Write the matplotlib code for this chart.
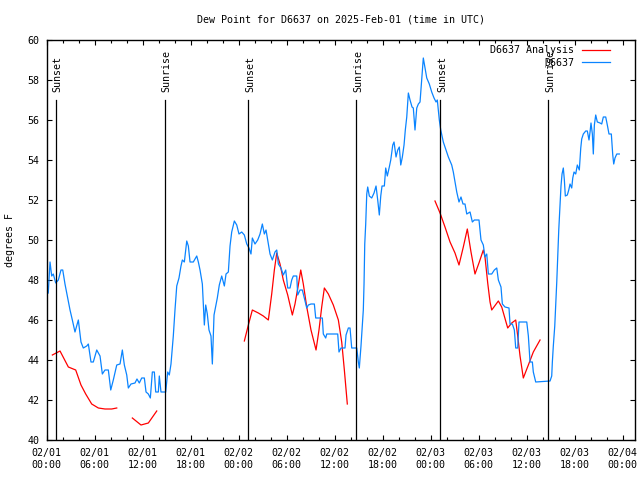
import numpy as np
import matplotlib
matplotlib.use('Agg')
import matplotlib.pyplot as plt

# hours since 2025-02-01 00:00 UTC, dew point in degrees F
obs_hours = [0.22, 0.44, 0.65, 0.85, 1.15, 1.48, 1.81, 2.03, 2.31, 2.65, 2.94, 3.23, 3.56, 3.98,
             4.31, 4.6, 5.03, 5.23, 5.56, 5.85, 6.28, 6.69, 6.98, 7.31, 7.73, 8.03, 8.35, 8.78,
             9.19, 9.48, 9.73, 10.03, 10.23, 10.56, 11.06, 11.31, 11.6, 11.9, 12.23, 12.44, 12.73,
             12.98, 13.23, 13.48, 13.65, 13.98, 14.1, 14.31, 14.6, 14.9, 15.15, 15.35, 15.56, 15.85,
             16.06, 16.28, 16.56, 16.81, 16.98, 17.23, 17.53, 17.73, 17.94, 18.35, 18.78, 18.98,
             19.19, 19.48, 19.73, 19.9, 20.1, 20.31, 20.56, 20.73, 20.94, 21.15, 21.35, 21.6, 21.9,
             22.23, 22.44, 22.73, 22.94, 23.15, 23.48, 23.78, 24.06, 24.4, 24.73, 25.03, 25.31,
             25.56, 25.73, 26.06, 26.4, 26.69, 26.98, 27.23, 27.44, 27.73, 27.94, 28.23, 28.56,
             28.78, 28.98, 29.31, 29.6, 29.9, 30.15, 30.44, 30.65, 30.85, 31.28, 31.4, 31.69, 31.98,
             32.23, 32.53, 32.73, 33.06, 33.48, 33.65, 34.48, 34.6, 34.9, 35.03, 36.4, 36.56, 36.81,
             37.31, 37.44, 37.73, 37.94, 38.15, 38.78, 38.98, 39.1, 39.31, 39.44, 39.6, 39.69, 39.78,
             39.9, 40.03, 40.15, 40.35, 40.65, 40.94, 41.19, 41.4, 41.6, 41.78, 41.94, 42.23, 42.4,
             42.6, 42.85, 43.03, 43.28, 43.44, 43.69, 43.9, 44.1, 44.28, 44.48, 44.69, 44.85, 45.03,
             45.23, 45.44, 45.69, 45.85, 46.06, 46.28, 46.48, 46.69, 46.9, 47.1, 47.31, 47.53, 47.85,
             48.15, 48.44, 48.69, 48.85, 49.1, 49.28, 49.6, 49.81, 50.23, 50.65, 50.85, 51.06, 51.28,
             51.56, 51.81, 52.06, 52.31, 52.53, 52.94, 53.23, 53.48, 54.06, 54.31, 54.6, 54.81,
             55.03, 55.23, 55.65, 55.98, 56.28, 56.48, 56.81, 56.98, 57.31, 57.81, 57.94, 58.23,
             58.48, 58.65, 58.9, 59.06, 60.03, 60.23, 60.44, 60.73, 60.85, 61.15, 62.94, 63.15,
             63.23, 63.35, 63.53, 63.65, 63.78, 63.9, 64.03, 64.19, 64.31, 64.44, 64.6, 64.73, 64.85,
             65.1, 65.28, 65.44, 65.65, 65.78, 65.94, 66.15, 66.35, 66.6, 66.78, 66.9, 67.1, 67.4,
             67.6, 67.81, 67.94, 68.06, 68.23, 68.35, 68.48, 68.65, 68.85, 69.19, 69.4, 69.6, 69.9,
             70.1, 70.31, 70.6, 70.78, 70.9, 71.06, 71.28, 71.6]
obs_dewpt = [47.35, 48.9, 48.2, 48.3, 47.85, 48.0, 48.5, 48.5, 47.8, 47.1, 46.5, 46.0, 45.4, 46.0,
             44.9, 44.6, 44.7, 44.8, 43.9, 43.9, 44.5, 44.2, 43.3, 43.5, 43.5, 42.5, 43.0, 43.75,
             43.8, 44.5, 43.75, 43.25, 42.6, 42.8, 42.85, 43.05, 42.85, 43.1, 43.1, 42.4, 42.3,
             42.1, 43.4, 43.4, 42.4, 42.4, 43.2, 42.4, 42.4, 42.4, 43.4, 43.25, 43.8, 45.2,
             46.5, 47.7, 48.1, 48.7, 49.0, 48.9, 49.95, 49.7, 48.9, 48.9, 49.2, 48.9,
             48.5, 47.8, 45.75, 46.75, 46.3, 45.5, 45.2, 43.8, 46.25, 46.7, 47.1, 47.75, 48.2,
             47.7, 48.3, 48.4, 49.7, 50.4, 50.95, 50.75, 50.3, 50.4, 50.25, 49.8, 49.6,
             49.3, 50.1, 49.8, 50.0, 50.3, 50.8, 50.3, 50.5, 49.8, 49.3, 49.0, 49.4,
             49.5, 48.8, 48.6, 48.25, 48.5, 47.6, 47.6, 48.0, 48.2, 48.2, 47.25, 47.5, 47.5,
             47.1, 46.6, 46.75, 46.8, 46.8, 46.1, 46.1, 45.3, 45.1, 45.3, 45.3, 44.4, 44.6,
             44.6, 45.25, 45.6, 45.6, 44.6, 44.6, 43.9, 43.6, 44.7, 45.5, 46.5, 47.8, 49.8,
             50.8, 52.3, 52.65, 52.2, 52.1, 52.35, 52.7, 52.0, 51.25, 52.2, 52.7, 52.7, 53.6,
             53.2, 53.65, 54.0, 54.75, 54.9, 54.15, 54.5, 54.65, 53.75, 54.15, 54.75, 55.5, 56.15,
             57.35, 57.0, 56.65, 56.6, 55.5, 56.6, 56.8, 56.9, 58.0, 59.1, 58.6, 58.1, 57.8,
             57.4, 57.1, 56.9, 57.0, 56.0, 55.5, 54.9, 54.65, 54.15, 53.75, 53.4, 52.9, 52.4,
             51.9, 52.15, 51.8, 51.8, 51.3, 51.4, 50.9, 51.0, 51.0, 50.0, 49.75, 49.15,
             49.3, 48.3, 48.3, 48.5, 48.6, 48.0, 47.65, 46.8, 46.65, 46.6, 45.8, 45.8,
             45.5, 44.6, 44.6, 45.9, 45.9, 45.2, 43.9, 43.9, 43.4, 42.9, 42.95, 43.2,
             43.9, 44.7, 45.7, 46.75, 47.9, 49.2, 50.5, 51.7, 52.7, 53.3, 53.6, 53.0, 52.2,
             52.25, 52.5, 52.8, 52.6, 53.1, 53.4, 53.3, 53.75, 53.5, 54.6, 55.05, 55.3, 55.45,
             55.45, 55.0, 55.4, 55.85, 55.3, 54.3, 55.75, 56.25, 55.9, 55.85, 55.8, 56.15, 56.15,
             55.75, 55.3, 55.3, 54.25, 53.8, 54.1, 54.3, 54.3]

# analysis series, four separate pieces
ana_hours = [
    [0.73, 1.69, 2.73, 3.65, 4.31, 4.9, 5.65, 6.48, 7.31, 8.15, 8.78],
    [10.73, 11.81, 12.73, 13.78],
    [24.73, 25.23, 25.73, 26.48, 27.1, 27.73, 28.15, 28.48, 28.78, 29.19, 29.6, 30.15, 30.73,
     31.06, 31.48, 31.78, 32.1, 32.53, 33.06, 33.69, 34.06, 34.4, 34.73, 35.23, 35.85, 36.48,
     36.9, 37.23, 37.6],
    [48.56, 49.19, 49.81, 50.44, 51.06, 51.56, 52.1, 52.6, 53.06, 53.56, 54.1, 54.6, 54.81,
     55.15, 55.44, 55.65, 56.48, 56.9, 57.65, 58.15, 58.65, 58.9, 59.19, 59.6, 60.23, 60.85,
     61.69],
]
ana_dewpt = [
    [44.25, 44.45, 43.65, 43.5, 42.75, 42.3, 41.8, 41.6, 41.55, 41.55, 41.6],
    [41.1, 40.75, 40.85, 41.45],
    [44.95, 45.75, 46.5, 46.35, 46.2, 46.0, 47.3, 48.5, 49.35, 48.8, 48.0, 47.25, 46.25,
     46.8, 47.75, 48.5, 47.8, 46.65, 45.5, 44.5, 45.5, 46.65, 47.6, 47.3, 46.75, 46.0,
     44.9, 43.5, 41.8],
    [51.95, 51.35, 50.65, 49.9, 49.35, 48.75, 49.65, 50.55, 49.4, 48.3, 48.9, 49.5, 49.15,
     47.85, 46.9, 46.5, 46.95, 46.65, 45.6, 45.85, 46.0, 45.2, 44.2, 43.1, 43.75, 44.4,
     45.0],
]

sun_hours = [1.19, 14.79, 25.23, 38.73, 49.23, 62.73]
sun_labels = ['Sunset', 'Sunrise', 'Sunset', 'Sunrise', 'Sunset', 'Sunrise']

xtick_hours = list(range(0, 73, 6))
xtick_labels = ['02/01\n00:00', '02/01\n06:00', '02/01\n12:00', '02/01\n18:00',
                '02/02\n00:00', '02/02\n06:00', '02/02\n12:00', '02/02\n18:00',
                '02/03\n00:00', '02/03\n06:00', '02/03\n12:00', '02/03\n18:00',
                '02/04\n00:00']

plt.rcParams['font.family'] = ['DejaVu Sans Mono']
fs = 7.2

fig = plt.figure(figsize=(6.4, 4.8), dpi=100)
ax = fig.add_axes([46.5 / 640, 40 / 480, 588.5 / 640, 400 / 480])

for i, (hx, hy) in enumerate(zip(ana_hours, ana_dewpt)):
    ax.plot(hx, hy, color='#ff0000', lw=0.9, label='D6637 Analysis' if i == 0 else None)
ax.plot(obs_hours, obs_dewpt, color='#0a84ff', lw=0.9, label='D6637')

for h, lab in zip(sun_hours, sun_labels):
    ax.plot([h, h], [40, 57.0], color='black', lw=0.9)
    ax.text(h + 0.2, 57.4, lab, rotation=90, ha='center', va='bottom', fontsize=fs)

ax.set_xlim(0, 73.56)
ax.set_ylim(40, 60)
ax.set_xticks(xtick_hours)
ax.set_xticklabels(xtick_labels)
ax.set_xticks(np.arange(0, 74, 2), minor=True)
ax.set_yticks(np.arange(40, 61, 2))
ax.tick_params(which='both', direction='in', top=True, right=True, labelsize=fs)
ax.tick_params(which='major', length=3.6, width=0.8)
ax.tick_params(which='minor', length=2.0, width=0.8)
ax.tick_params(axis='x', pad=6)
ax.tick_params(axis='y', pad=5)
for s in ax.spines.values():
    s.set_linewidth(1.0)

ax.set_title('Dew Point for D6637 on 2025-Feb-01 (time in UTC)', fontsize=fs, pad=12.5)
fig.text(10 / 640, 0.5, 'degrees F', rotation=90, ha='center', va='center', fontsize=fs)

ax.legend(loc='upper right', bbox_to_anchor=((610 - 46.5) / 588.5, (440 - 45.5) / 400),
          frameon=False, markerfirst=False, fontsize=fs, handlelength=2.8,
          handletextpad=0.75, borderpad=0, borderaxespad=0, labelspacing=0.25)

fig.savefig('out.png', dpi=100)
